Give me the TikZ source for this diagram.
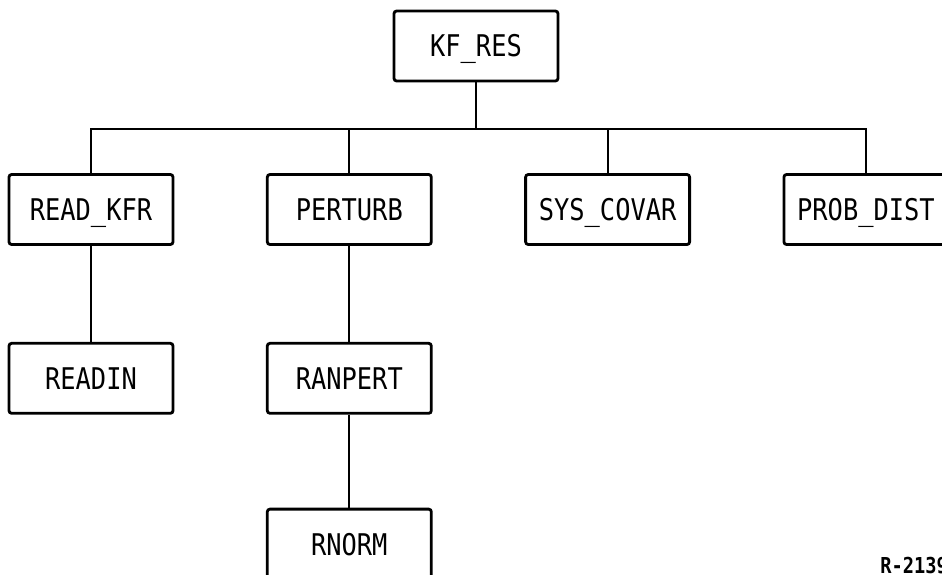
\documentclass[tikz,border=0pt]{standalone}
\usepackage{fontspec}
\usepackage{tikz}
\usetikzlibrary{positioning}
\newfontfamily\modfont[FakeStretch=0.85]{DejaVu Sans Mono}

\begin{document}
\begin{tikzpicture}[
  box/.style={draw=black, line width=1.6pt, rounded corners=1.5pt, align=center,
    minimum width=3.28cm, minimum height=1.4cm, inner sep=0pt,
    text height=12.5pt, text depth=0pt,
    font=\modfont\fontsize{17}{20}\selectfont},
  ln/.style={line width=1.2pt}
]
\useasboundingbox (0,0) rectangle (18.84,-11.48);
\node[box] (kfres) at (9.52,-0.92) {KF\_RES};
\node[box] (readkfr) at (1.82,-4.19) {READ\_KFR};
\node[box, right=1.83cm of readkfr] (perturb) {PERTURB};
\node[box, right=1.83cm of perturb] (syscovar) {SYS\_COVAR};
\node[box, right=1.83cm of syscovar] (probdist) {PROB\_DIST};
\node[box, below=1.92cm of readkfr] (readin) {READIN};
\node[box, below=1.92cm of perturb] (ranpert) {RANPERT};
\node[box, below=1.86cm of ranpert] (rnorm) {RNORM};
\node[anchor=base west, inner sep=0pt,
  font=\modfont\bfseries\fontsize{12.5}{15}\selectfont] (fignum) at (17.6,-11.46) {R-2139};
% tree connectors
\draw[ln] (kfres.south) -- ++(0,-0.94) coordinate (bus);
\draw[ln] (readkfr.north) |- (bus) -| (probdist.north);
\draw[ln] (perturb.north) -- (perturb.north |- bus);
\draw[ln] (syscovar.north) -- (syscovar.north |- bus);
\draw[ln] (readkfr) -- (readin);
\draw[ln] (perturb) -- (ranpert);
\draw[ln] (ranpert) -- (rnorm);
\end{tikzpicture}
\end{document}
